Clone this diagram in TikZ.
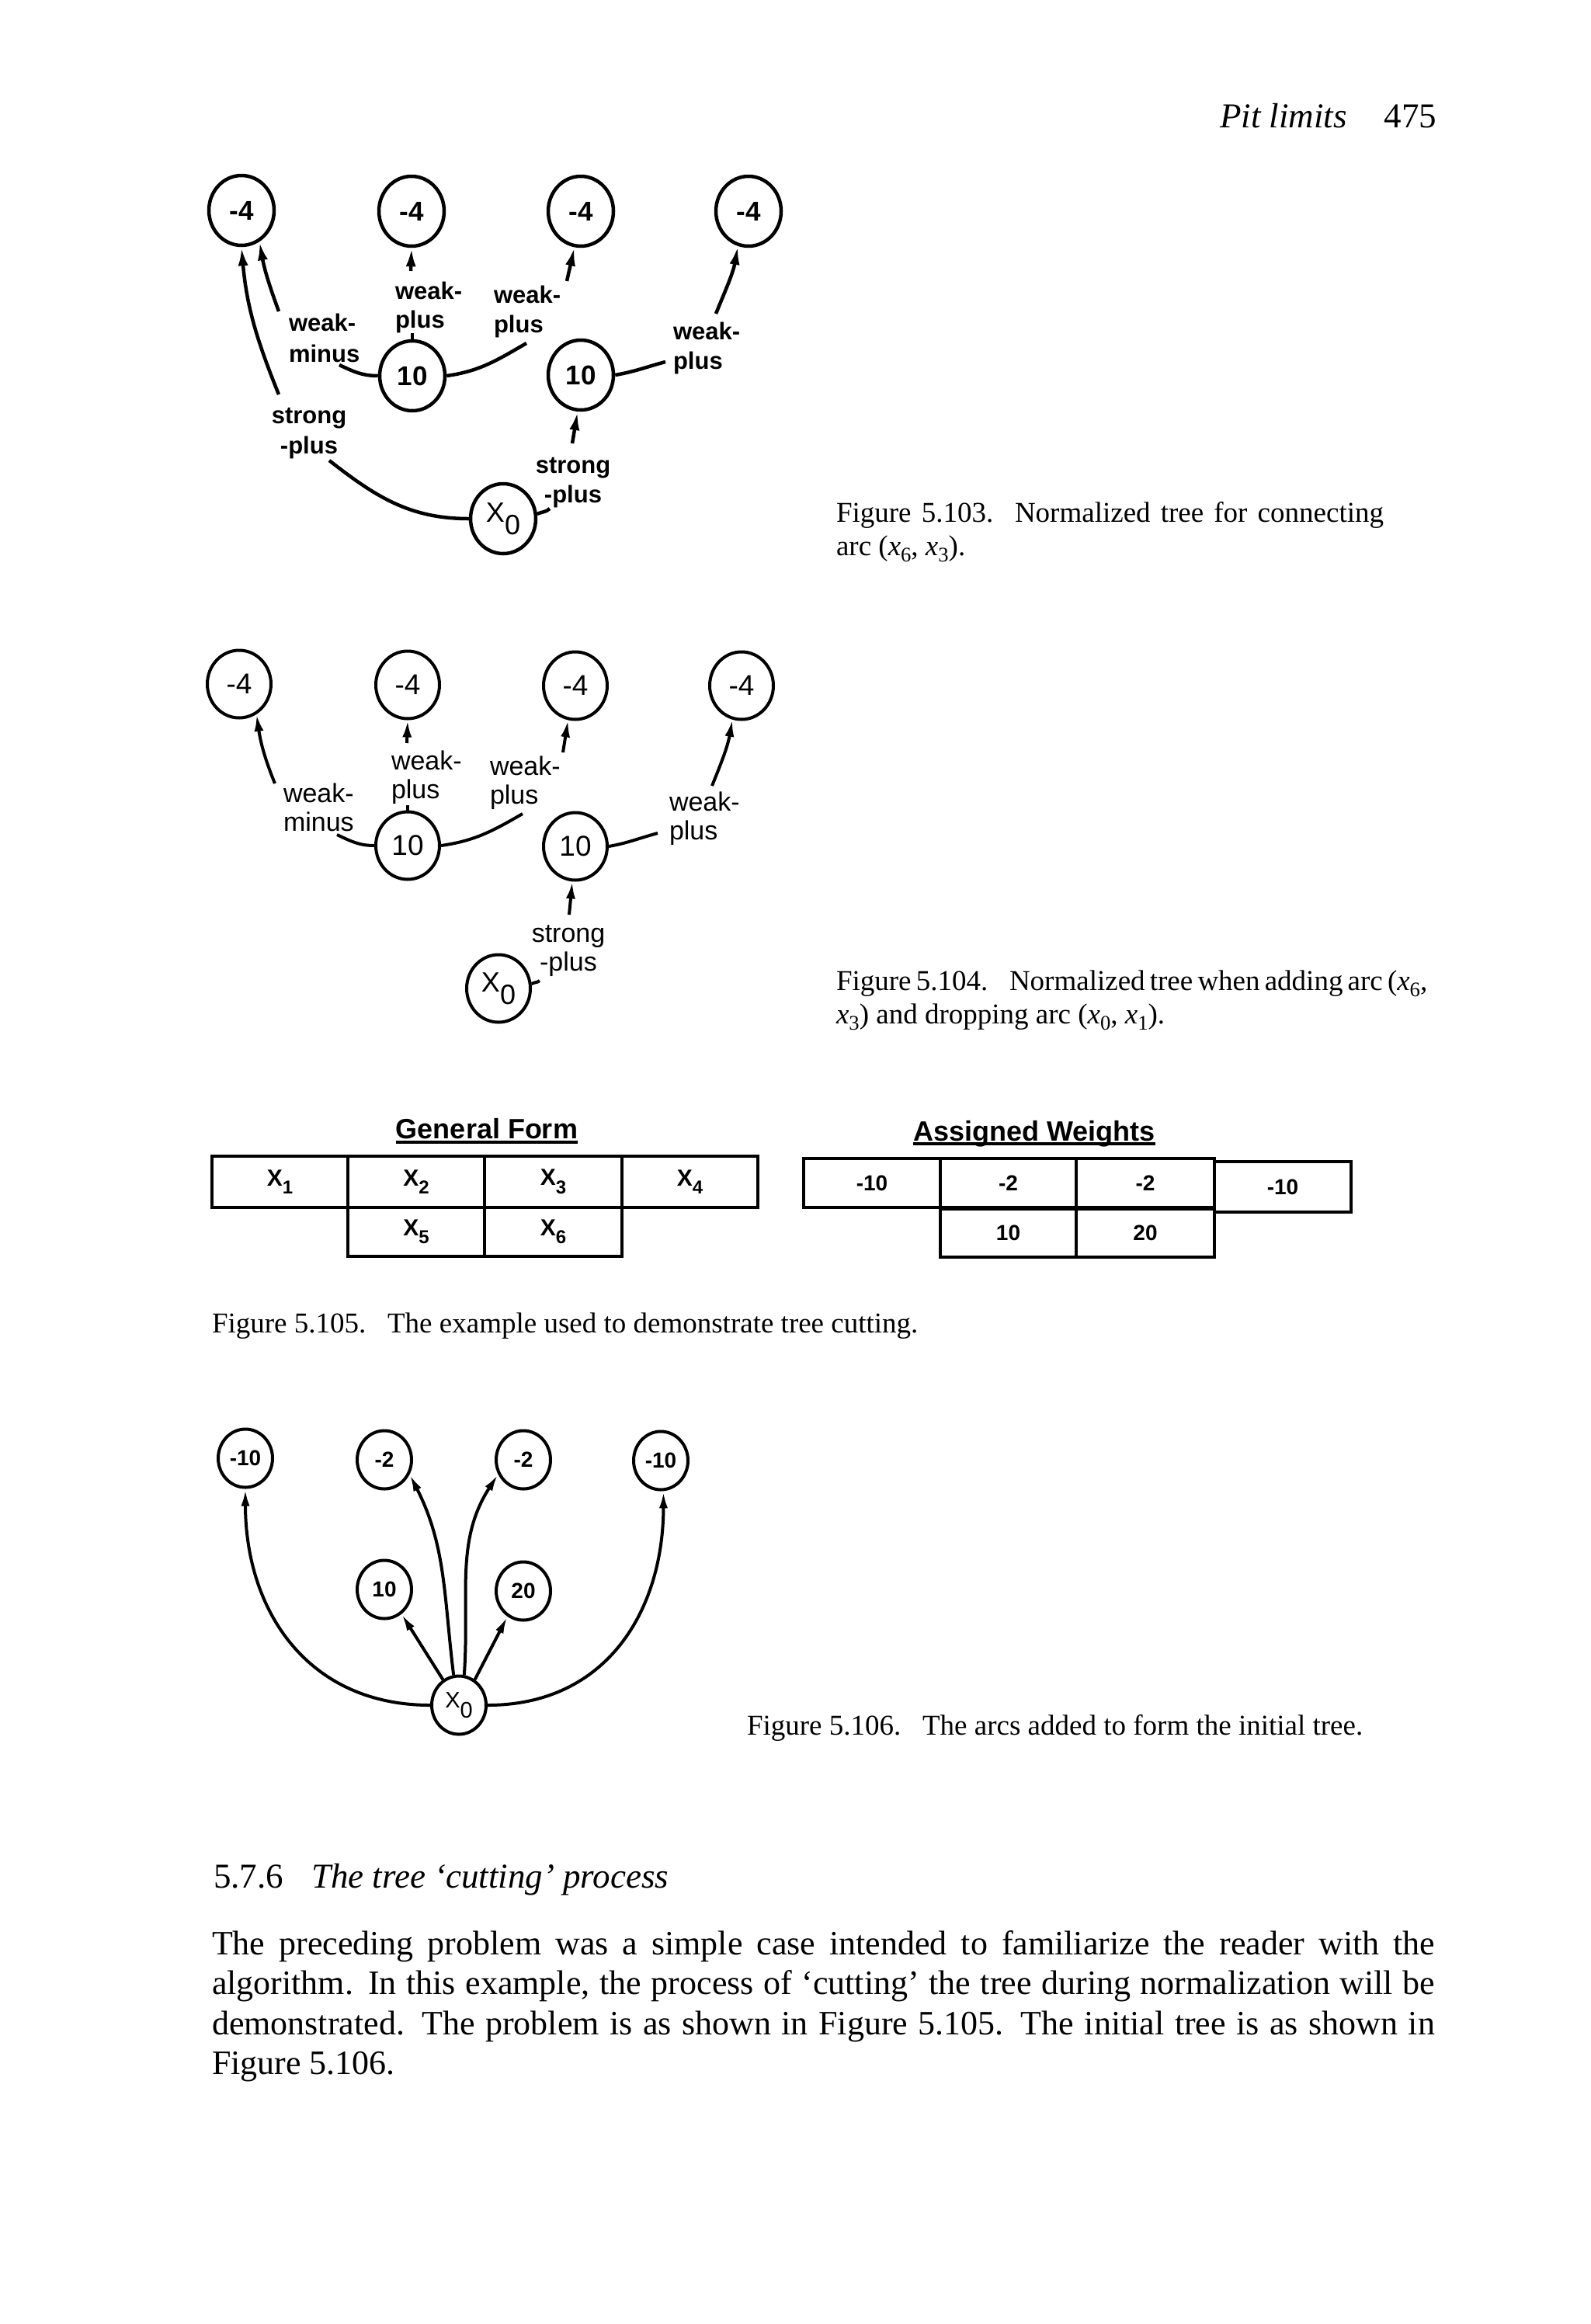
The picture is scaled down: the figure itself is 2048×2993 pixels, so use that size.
\documentclass[tikz,border=0pt]{standalone}
\usepackage{fontspec}
\setmainfont{Liberation Serif}
\newfontfamily\diafont{Liberation Sans}
\usepackage{graphicx}
\usetikzlibrary{arrows.meta,shapes.geometric}
\newcommand\myfs[1]{\fontsize{#1}{#1}\selectfont}
\newcommand\capsub[1]{\raisebox{-0.22em}{\scalebox{0.72}{#1}}}
\newcommand\xv[1]{\textit{x}\capsub{#1}}
\newcommand\cellsub[1]{\raisebox{-0.35em}{\scalebox{0.8}{#1}}}
\newcommand\xzero{X\raisebox{-0.45em}{0}}
\tikzset{
  txt/.style={inner sep=0pt, outer sep=0pt},
  bodytxt/.style={txt, anchor=base west, font=\myfs{44}},
  capt/.style={txt, anchor=base west, font=\myfs{37}},
  circA/.style={ellipse, draw, line width=4.5pt, minimum width=84pt, minimum height=90pt, inner sep=0pt, font=\diafont\bfseries\myfs{35}},
  circB/.style={ellipse, draw, line width=4pt, minimum width=82pt, minimum height=87pt, inner sep=0pt, font=\diafont\myfs{37}},
  circC/.style={ellipse, draw, line width=4pt, minimum width=70pt, minimum height=75pt, inner sep=0pt, font=\diafont\bfseries\myfs{28}},
  labA/.style={txt, anchor=base west, font=\diafont\bfseries\myfs{31}},
  labAc/.style={txt, anchor=base, font=\diafont\bfseries\myfs{31}},
  labB/.style={txt, anchor=base west, font=\diafont\myfs{34}},
  labBc/.style={txt, anchor=base, font=\diafont\myfs{34}},
  lnA/.style={line width=4.5pt},
  arA/.style={line width=4.5pt, -{Latex[length=24pt,width=13pt]}},
  lnB/.style={line width=4pt},
  arB/.style={line width=4pt, -{Latex[length=22pt,width=12pt]}},
  arC/.style={line width=4pt, -{Latex[length=22pt,width=11pt]}},
  cell/.style={draw, line width=4.5pt, inner sep=0pt, font=\diafont\bfseries\myfs{30}},
  wcell/.style={draw, line width=4.5pt, inner sep=0pt, font=\diafont\bfseries\myfs{28}},
  head/.style={txt, anchor=base, font=\diafont\bfseries\myfs{36}}
}
\begin{document}
\begin{tikzpicture}[x=1pt,y=1pt]
\useasboundingbox (0,0) rectangle (2048,-2993);
\fill[white] (0,0) rectangle (2048,-2993);

% running head
\node[txt, anchor=base west, font=\myfs{45}\itshape] (hdr) at (1571,-164) {Pit limits};
\node[txt, anchor=base east, font=\myfs{45}] (pgno) at (1850,-164) {475};

% ---------------- Figure 5.103 ----------------
\node[circA] (a1) at (311,-271) {-4};
\node[circA] (a2) at (530,-272) {-4};
\node[circA] (a3) at (748,-272) {-4};
\node[circA] (a4) at (964,-272) {-4};
\node[circA] (b1) at (531,-484) {10};
\node[circA] (b2) at (748,-483) {10};
\node[circA, font=\diafont\myfs{36}] (x0) at (648,-668) {\xzero};

\node[labA] (l1a) at (372,-426) {weak-};
\node[labA] (l1b) at (372,-466) {minus};
\node[labA] (l2a) at (509,-385) {weak-};
\node[labA] (l2b) at (509,-422) {plus};
\node[labA] (l3a) at (636,-390) {weak-};
\node[labA] (l3b) at (636,-428) {plus};
\node[labA] (l4a) at (867,-437) {weak-};
\node[labA] (l4b) at (867,-475) {plus};
\node[labAc] (l5a) at (398,-545) {strong};
\node[labAc] (l5b) at (398,-584) {-plus};
\node[labAc] (l6a) at (738,-609) {strong};
\node[labAc] (l6b) at (738,-647) {-plus};

\coordinate (p1s) at (437,-470);
\coordinate (p1t) at (359,-401);
\draw[lnA] (b1.west) to[out=180,in=-25] (p1s);
\draw[arA] (p1t) to[out=110,in=-80] (a1.300);

\draw[lnA] (b1.north) -- ++(0,8);
\coordinate (p2t) at (529,-349);
\draw[arA] (p2t) -- (a2.south);

\coordinate (p3s) at (678,-442);
\coordinate (p3t) at (730,-362);
\draw[lnA] (b1.east) to[out=8,in=-150] (p3s);
\draw[arA] (p3t) -- (a3.260);

\coordinate (p4s) at (857,-466);
\coordinate (p4t) at (922,-404);
\draw[lnA] (b2.east) to[out=10,in=-165] (p4s);
\draw[arA] (p4t) to[out=68,in=-100] (a4.253);

\coordinate (p5s) at (424,-593);
\coordinate (p5t) at (359,-508);
\draw[lnA] (x0.west) to[out=180,in=-38] (p5s);
\draw[arA] (p5t) to[out=112,in=-85] (a1.south);

\coordinate (p6s) at (708,-655);
\coordinate (p6t) at (737,-571);
\draw[lnA] (x0.8) to[out=25,in=-135] (p6s);
\draw[arA] (p6t) -- (b2.265);

\node[capt] (cap3a) at (1077,-672) {\makebox[705pt][s]{Figure 5.103.\hspace{0.75em}Normalized tree for connecting}};
\node[capt] (cap3b) at (1077,-715) {arc (\xv{6}, \xv{3}).};

% ---------------- Figure 5.104 ----------------
\node[circB] (c1) at (308,-881) {-4};
\node[circB] (c2) at (525,-882) {-4};
\node[circB] (c3) at (741,-883) {-4};
\node[circB] (c4) at (955,-883) {-4};
\node[circB] (d1) at (525,-1089) {10};
\node[circB] (d2) at (741,-1090) {10};
\node[circB, font=\diafont\myfs{36}] (y0) at (642,-1273) {\xzero};

\node[labB] (m1a) at (365,-1033) {weak-};
\node[labB] (m1b) at (365,-1070) {minus};
\node[labB] (m2a) at (504,-991) {weak-};
\node[labB] (m2b) at (504,-1028) {plus};
\node[labB] (m3a) at (631,-998) {weak-};
\node[labB] (m3b) at (631,-1035) {plus};
\node[labB] (m4a) at (862,-1044) {weak-};
\node[labB] (m4b) at (862,-1081) {plus};
\node[labBc] (m5a) at (732,-1213) {strong};
\node[labBc] (m5b) at (732,-1250) {-plus};

\coordinate (q1s) at (434,-1075);
\coordinate (q1t) at (354,-1009);
\draw[lnB] (d1.west) to[out=180,in=-25] (q1s);
\draw[arB] (q1t) to[out=112,in=-82] (c1.300);

\draw[lnB] (d1.north) -- ++(0,7);
\coordinate (q2t) at (524,-957);
\draw[arB] (q2t) -- (c2.south);

\coordinate (q3s) at (673,-1048);
\coordinate (q3t) at (725,-969);
\draw[lnB] (d1.east) to[out=8,in=-150] (q3s);
\draw[arB] (q3t) -- (c3.258);

\coordinate (q4s) at (847,-1073);
\coordinate (q4t) at (917,-1012);
\draw[lnB] (d2.east) to[out=10,in=-165] (q4s);
\draw[arB] (q4t) to[out=68,in=-100] (c4.255);

\coordinate (q5s) at (695,-1263);
\coordinate (q5t) at (733,-1178);
\draw[lnB] (y0.8) to[out=30,in=-140] (q5s);
\draw[arB] (q5t) -- (d2.265);

\node[capt] (cap4a) at (1077,-1275) {\makebox[759pt][s]{Figure 5.104.\hspace{0.75em}Normalized tree when adding arc (\xv{6},}};
\node[capt] (cap4b) at (1077,-1318) {\xv{3}) and dropping arc (\xv{0}, \xv{1}).};

% ---------------- Figure 5.105 ----------------
\node[head] (gfh) at (627,-1466) {General Form};
\draw[line width=3.5pt] ([yshift=-5pt]gfh.base west) -- ([yshift=-5pt]gfh.base east);
\node[cell, minimum width=175pt, minimum height=66pt] (g1) at (360.5,-1522) {X\cellsub{1}};
\node[cell, minimum width=176pt, minimum height=66pt] (g2) at (536,-1522) {X\cellsub{2}};
\node[cell, minimum width=177pt, minimum height=66pt] (g3) at (712.5,-1522) {X\cellsub{3}};
\node[cell, minimum width=175pt, minimum height=66pt] (g4) at (888.5,-1522) {X\cellsub{4}};
\node[cell, minimum width=176pt, minimum height=63pt] (g5) at (536,-1586.5) {X\cellsub{5}};
\node[cell, minimum width=177pt, minimum height=63pt] (g6) at (712.5,-1586.5) {X\cellsub{6}};

\node[head] (awh) at (1332,-1469) {Assigned Weights};
\draw[line width=3.5pt] ([yshift=-4pt]awh.base west) -- ([yshift=-4pt]awh.base east);
\node[wcell, minimum width=176pt, minimum height=63pt] (w1) at (1123,-1523.5) {-10};
\node[wcell, minimum width=175pt, minimum height=63pt] (w2) at (1298.5,-1523.5) {-2};
\node[wcell, minimum width=178pt, minimum height=63pt] (w3) at (1475,-1523.5) {-2};
\node[wcell, minimum width=176pt, minimum height=65pt] (w4) at (1652,-1528.5) {-10};
\node[wcell, minimum width=175pt, minimum height=62pt] (w5) at (1298.5,-1588) {10};
\node[wcell, minimum width=178pt, minimum height=62pt] (w6) at (1475,-1588) {20};

\node[capt] (cap5) at (273,-1716) {Figure 5.105.\hspace{0.75em}The example used to demonstrate tree cutting.};

% ---------------- Figure 5.106 ----------------
\node[circC] (e1) at (316,-1878) {-10};
\node[circC] (e2) at (495,-1880) {-2};
\node[circC] (e3) at (674,-1880) {-2};
\node[circC] (e4) at (851,-1881) {-10};
\node[circC] (f1) at (495,-2047) {10};
\node[circC] (f2) at (674,-2049) {20};
\node[circC, font=\diafont\myfs{29}] (z0) at (591,-2196) {\xzero};

\draw[arC] (z0.west) to[out=180,in=-90,looseness=1.1] (e1.south);
\draw[arC] (z0.100) to[out=97,in=-63] (e2.-30);
\draw[arC] (z0.80) to[out=86,in=-123] (e3.-150);
\draw[arC] (z0.122) -- (f1.-55);
\draw[arC] (z0.58) -- (f2.-122);
\draw[arC] (z0.east) to[out=0,in=-90,looseness=1.1] (e4.-85);

\node[capt] (cap6) at (962,-2234) {Figure 5.106.\hspace{0.75em}The arcs added to form the initial tree.};

% ---------------- section text ----------------
\node[txt, anchor=base west, font=\myfs{45}] (secno) at (275,-2431) {5.7.6};
\node[txt, anchor=base west, font=\myfs{45}\itshape] (sectitle) at (401,-2431) {The tree ‘cutting’ process};

\node[bodytxt] (par1) at (273,-2517) {\makebox[1575pt][s]{The preceding problem was a simple case intended to familiarize the reader with the}};
\node[bodytxt] (par2) at (273,-2568) {\makebox[1575pt][s]{algorithm. In this example, the process of ‘cutting’ the tree during normalization will be}};
\node[bodytxt] (par3) at (273,-2620) {\makebox[1575pt][s]{demonstrated. The problem is as shown in Figure 5.105. The initial tree is as shown in}};
\node[bodytxt] (par4) at (273,-2671) {Figure 5.106.};
\end{tikzpicture}
\end{document}
